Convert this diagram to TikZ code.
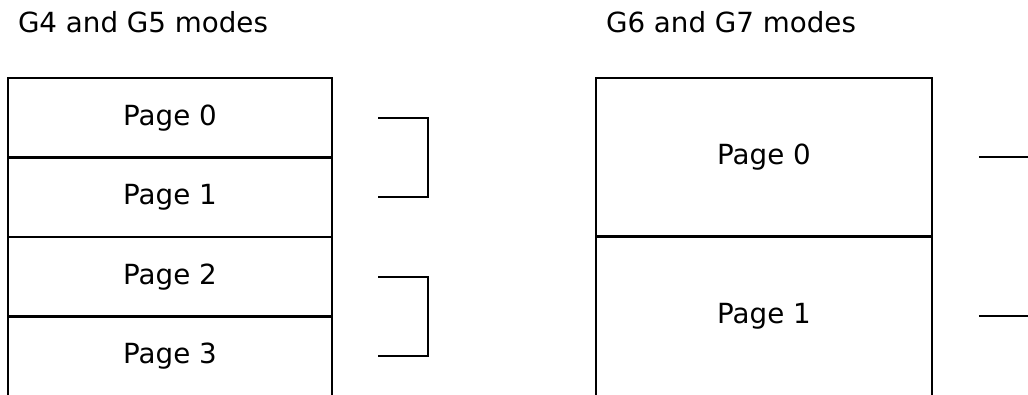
\documentclass[tikz,border=0pt]{standalone}
\usepackage{fontspec}
\setmainfont{DejaVu Sans}
\usetikzlibrary{positioning,calc}

\begin{document}
\begin{tikzpicture}[
  x=0.75pt, y=-0.75pt,
  cell/.style={inner sep=0pt, outer sep=0pt, minimum width=243pt, minimum height=59.6pt, font=\fontsize{20.8}{24}\selectfont},
  bigcell/.style={cell, minimum width=252pt, minimum height=118.9pt},
  title/.style={inner sep=0pt, anchor=base west, font=\fontsize{20.8}{24}\selectfont},
  frame/.style={line width=2pt},
  brk/.style={line width=1.7pt}
]
  \useasboundingbox (0,0) rectangle (1028,395);
  \clip (0,0) rectangle (1028,395);

  % left column: four pages
  \node[cell] (p0) at (170,117.8) {Page 0};
  \node[cell, below=0pt of p0] (p1) {Page 1};
  \node[cell, below=0pt of p1] (p2) {Page 2};
  \node[cell, below=0pt of p2] (p3) {Page 3};
  \node[title] (t45) at ([xshift=7.3pt, yshift=34.5pt]p0.north west) {G4 and G5 modes};

  % right column: two pages
  \node[bigcell] (q0) at (764,157.3) {Page 0};
  \node[bigcell, below=0pt of q0] (q1) {Page 1};
  \node[title] (t67) at ([xshift=7.3pt, yshift=34.5pt]q0.north west) {G6 and G7 modes};

  % open-bottom frames
  \draw[frame] ([yshift=-10pt]p3.south west) |- (p0.north east) -- ([yshift=-10pt]p3.south east);
  \foreach \n in {p0,p1,p2}
    \draw[frame] (\n.south west) -- (\n.south east);
  \draw[frame] ([yshift=-10pt]q1.south west) |- (q0.north east) -- ([yshift=-10pt]q1.south east);
  \draw[frame] (q0.south west) -- (q0.south east);

  % brackets
  \draw[brk] ([xshift=34.5pt]p0.east) -- ++(37.5pt,0) |- ([xshift=34.5pt]p1.east);
  \draw[brk] ([xshift=34.5pt]p2.east) -- ++(37.5pt,0) |- ([xshift=34.5pt]p3.east);
  \draw[brk] ([xshift=35.2pt]q0.east) -- ++(40pt,0);
  \draw[brk] ([xshift=35.2pt]q1.east) -- ++(40pt,0);
\end{tikzpicture}
\end{document}
